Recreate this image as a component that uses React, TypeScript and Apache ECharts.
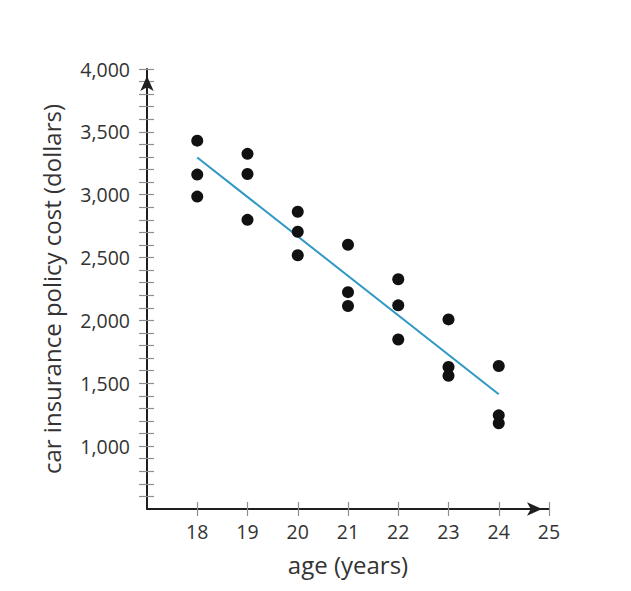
import React, { useEffect, useRef } from "react";
import * as echarts from "echarts";

const ages = [18, 18, 18, 19, 19, 19, 20, 20, 20, 21, 21, 21, 22, 22, 22, 23, 23, 23, 24, 24, 24];
const costs = [3430, 3160, 2985, 3325, 3165, 2800, 2865, 2705, 2518, 2602, 2225, 2115, 2327, 2120, 1848, 2008, 1630, 1560, 1637, 1245, 1182];
const trendAges = [18, 24];
const trendCosts = [3296, 1413];
const xTickValues = [18, 19, 20, 21, 22, 23, 24, 25];
const yLabelValues = [1000, 1500, 2000, 2500, 3000, 3500, 4000];
const yTickValues: number[] = [];
for (let v = 600; v <= 4000; v += 100) yTickValues.push(v);

const FONT = "Open Sans";
const AXIS_COLOR = "#1f1f1f";
const TICK_COLOR = "#8e8e8e";
const LABEL_COLOR = "#333333";

export default function App() {
  const ref = useRef<HTMLDivElement>(null);
  useEffect(() => {
    if (!ref.current) return;
    const chart = echarts.init(ref.current, null, { renderer: "svg" });
    const baseX = {
      type: "value",
      min: 17,
      max: 25,
      interval: 1,
      position: "bottom",
      splitLine: { show: false },
    };
    const baseY = {
      type: "value",
      min: 500,
      max: 4000,
      interval: 500,
      position: "left",
      splitLine: { show: false },
    };
    chart.setOption({
      animation: false,
      grid: { left: 147, right: 82, top: 69, bottom: 82, containLabel: false },
      xAxis: [
        {
          ...baseX,
          name: "age (years)",
          nameLocation: "middle",
          nameGap: 43,
          nameTextStyle: { fontFamily: FONT, fontSize: 24, color: LABEL_COLOR },
          axisLine: {
            onZero: false,
            symbol: ["none", "arrow"],
            symbolSize: [10, 15],
            symbolOffset: [0, -7],
            lineStyle: { color: AXIS_COLOR, width: 2 },
          },
          axisTick: { show: true, customValues: xTickValues, length: 7, lineStyle: { color: TICK_COLOR, width: 1.2 } },
          axisLabel: {
            customValues: xTickValues,
            margin: 12,
            fontFamily: FONT,
            fontSize: 19.5,
            color: LABEL_COLOR,
          },
        },
        {
          ...baseX,
          axisLine: { show: false, onZero: false },
          axisTick: { show: true, inside: true, customValues: xTickValues, length: 7, lineStyle: { color: TICK_COLOR, width: 1.2 } },
          axisLabel: { show: false },
        },
      ],
      yAxis: [
        {
          ...baseY,
          name: "car insurance policy cost (dollars)",
          nameLocation: "middle",
          nameGap: 84,
          nameRotate: 90,
          nameTextStyle: { fontFamily: FONT, fontSize: 24, color: LABEL_COLOR },
          axisLine: {
            onZero: false,
            symbol: ["none", "arrow"],
            symbolSize: [10, 15],
            symbolOffset: [0, -7],
            lineStyle: { color: AXIS_COLOR, width: 2 },
          },
          axisTick: { show: true, customValues: yTickValues, length: 8, lineStyle: { color: TICK_COLOR, width: 1.2 } },
          axisLabel: {
            customValues: yLabelValues,
            margin: 17,
            fontFamily: FONT,
            fontSize: 19.5,
            color: LABEL_COLOR,
            formatter: (v: number) => v.toLocaleString("en-US"),
          },
        },
        {
          ...baseY,
          axisLine: { show: false, onZero: false },
          axisTick: { show: true, inside: true, customValues: yTickValues, length: 7, lineStyle: { color: TICK_COLOR, width: 1.2 } },
          axisLabel: { show: false },
        },
      ],
      series: [
        {
          type: "line",
          data: trendAges.map((a, i) => [a, trendCosts[i]]),
          showSymbol: false,
          symbol: "none",
          lineStyle: { color: "#2f98c4", width: 2 },
          z: 2,
        },
        {
          type: "scatter",
          data: ages.map((a, i) => [a, costs[i]]),
          symbolSize: 12,
          itemStyle: { color: "#111111", opacity: 1 },
          z: 3,
        },
      ],
    });
    return () => chart.dispose();
  }, []);
  return (
    <div
      ref={ref}
      style={{ position: "absolute", left: 0, top: 0, width: 631, height: 591, background: "#fff" }}
    />
  );
}
